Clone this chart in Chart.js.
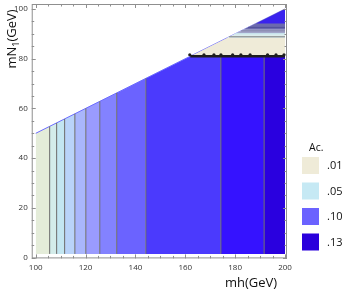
<!DOCTYPE html>
<html>
<head>
<meta charset="utf-8">
<script src="https://cdn.jsdelivr.net/npm/chart.js@4.4.1/dist/chart.umd.min.js"></script>
<style>
  html, body { margin: 0; padding: 0; background: #fff; }
  #wrap { width: 346px; height: 292px; }
</style>
</head>
<body>
<div id="wrap"><canvas id="chart"></canvas></div>
<script>
// Acceptance bands along mh (vertical contours)
const mhEdges = [100, 105.6, 108.4, 111.6, 115.7, 120.1, 125.7, 132.5, 144.2, 174.3, 191.6, 200];
// kinematic edge mN1 at each band edge
const edgeMN1 = [50, 52.8, 54.2, 55.8, 57.85, 60.05, 62.85, 66.25, 72.1, 87.15, 95.8, 100];
const bandColors = ["#e4ecd9", "#d4ecea", "#c3e6f1", "#b9d3f9", "#a9b6fc", "#9a9bfe",
                    "#8382ff", "#6b63ff", "#4b3afd", "#3512ff", "#2a00df"];
const bandFloor = 1.5;

// upper-right region (low acceptance pocket), layered from bottom to top
const capMh = [162, 176.6, 180.4, 183.6, 188.4];
const capMN1 = [81, 88.3, 90.2, 91.8, 94.2];
const capColors = ["#efebd8", "#dcecec", "#a2a4c8", "#6c6aae", "#3a22ee"];
const peakMh = 200, peakMN1 = 100;

// thin contour lines inside the pocket
const hLineMN1 = [88.8, 90.0, 91.2, 92.6];
const hLineStart = [177.6, 180.0, 182.4, 185.2];
const hLineColors = ["#7a7a7a", "#c4e6f0", "#8484aa", "#50509a"];

// thick black contour with its little bumps
const blackMN1 = 81;
const bumpMh = [161.8, 167.5, 171.5, 174.3, 179, 182.3, 186, 193, 196.4, 199.6];

const xTicks = [100, 120, 140, 160, 180, 200];
const yTicks = [0, 20, 40, 60, 80, 100];

const legendTitle = "Ac.";
const legendLabels = [".01", ".05", ".10", ".13"];
const legendColors = ["#efebd8", "#c6e9f4", "#6b62ff", "#2a00dc"];

const FONT = '"Open Sans", "DejaVu Sans", sans-serif';

let datasets = [];

// bands
for (let i = 0; i < bandColors.length; i++) {
  datasets.push({
    data: [{ x: mhEdges[i], y: edgeMN1[i] }, { x: mhEdges[i + 1], y: edgeMN1[i + 1] }],
    backgroundColor: bandColors[i],
    borderColor: "#6c6cff",
    borderWidth: 1,
    fill: { value: bandFloor },
    pointRadius: 0,
  });
}

// pocket layers
capMh.forEach((m, i) => {
  datasets.push({
    data: [{ x: m, y: capMN1[i] }, { x: peakMh, y: peakMN1 }],
    backgroundColor: capColors[i],
    borderColor: "rgba(0,0,0,0)",
    borderWidth: 0,
    fill: { value: capMN1[i] },
    pointRadius: 0,
  });
});

// thin pocket contours
hLineMN1.forEach((v, i) => {
  datasets.push({
    data: [{ x: hLineStart[i], y: v }, { x: peakMh, y: v }],
    borderColor: hLineColors[i],
    borderWidth: 1,
    fill: false,
    pointRadius: 0,
  });
});

// vertical contour lines
for (let i = 1; i < mhEdges.length - 1; i++) {
  datasets.push({
    data: [{ x: mhEdges[i], y: bandFloor }, { x: mhEdges[i], y: Math.min(edgeMN1[i], blackMN1) }],
    borderColor: "#6a6a6a",
    borderWidth: 1,
    fill: false,
    pointRadius: 0,
  });
}

// black contour
datasets.push({
  data: [{ x: capMh[0], y: blackMN1 }, { x: peakMh, y: blackMN1 }],
  borderColor: "#1e1e1e",
  borderWidth: 2.5,
  fill: false,
  pointRadius: 0,
});
datasets.push({
  data: bumpMh.map((m) => ({ x: m, y: blackMN1 + 0.6 })),
  showLine: false,
  pointRadius: 1.6,
  pointBackgroundColor: "#1e1e1e",
  pointBorderWidth: 0,
});

// first declared drawn first (at the bottom)
datasets.forEach((d, i) => (d.order = 1000 - i));

const framePlugin = {
  id: "frame",
  afterDraw(chart) {
    const { ctx, chartArea: a, scales: { x, y } } = chart;
    ctx.save();
    ctx.strokeStyle = "#8f8f8f";
    ctx.lineWidth = 1;
    ctx.strokeRect(a.left + 0.5, a.top + 0.5, a.right - a.left - 1, a.bottom - a.top - 1);

    // inward ticks on all four sides
    ctx.beginPath();
    for (let v = 100; v <= 200; v += 5) {
      const px = Math.round(x.getPixelForValue(v)) + 0.5;
      const len = v % 20 === 0 ? 4 : 2.5;
      ctx.moveTo(px, a.bottom); ctx.lineTo(px, a.bottom - len);
      ctx.moveTo(px, a.top); ctx.lineTo(px, a.top + len);
    }
    for (let v = 0; v <= 100; v += 5) {
      const py = Math.round(y.getPixelForValue(v)) + 0.5;
      const len = v % 20 === 0 ? 4 : 2.5;
      ctx.moveTo(a.left, py); ctx.lineTo(a.left + len, py);
      ctx.moveTo(a.right, py); ctx.lineTo(a.right - len, py);
    }
    ctx.stroke();

    // axis titles
    ctx.fillStyle = "#111";
    ctx.font = "13px " + FONT;
    ctx.textAlign = "center";
    ctx.textBaseline = "middle";
    ctx.fillText("mh(GeV)", 251, 283);

    ctx.save();
    ctx.translate(12, 39);
    ctx.rotate(-Math.PI / 2);
    const subFont = "9px " + FONT;
    const w1 = ctx.measureText("mN").width;
    const w3 = ctx.measureText("(GeV)").width;
    ctx.font = subFont;
    const w2 = ctx.measureText("1").width;
    const start = -(w1 + w2 + w3) / 2;
    ctx.textAlign = "left";
    ctx.font = "13px " + FONT;
    ctx.fillText("mN", start, 0);
    ctx.font = subFont;
    ctx.fillText("1", start + w1, 4);
    ctx.font = "13px " + FONT;
    ctx.fillText("(GeV)", start + w1 + w2, 0);
    ctx.restore();

    // legend
    ctx.textAlign = "left";
    ctx.font = "10.5px " + FONT;
    ctx.fillText(legendTitle, 309, 148);
    ctx.font = "11px " + FONT;
    legendLabels.forEach((lab, i) => {
      const top = 157 + i * 25.5;
      ctx.fillStyle = legendColors[i];
      ctx.fillRect(302, top, 17, 17);
      ctx.fillStyle = "#111";
      ctx.fillText(lab, 327, top + 9);
    });
    ctx.restore();
  },
};

new Chart(document.getElementById("chart"), {
  type: "line",
  data: { datasets },
  plugins: [framePlugin],
  options: {
    responsive: true,
    maintainAspectRatio: false,
    animation: false,
    layout: { padding: { left: 10, right: 59, top: 1, bottom: 14 } },
    plugins: { legend: { display: false }, tooltip: { enabled: false } },
    scales: {
      x: {
        type: "linear",
        min: 98.4,
        max: 200.8,
        grid: { display: false, drawTicks: false },
        border: { display: false },
        afterBuildTicks: (s) => { s.ticks = xTicks.map((v) => ({ value: v })); },
        ticks: { padding: 5, color: "#333", font: { size: 8, family: FONT }, maxRotation: 0 },
      },
      y: {
        min: -0.3,
        max: 102,
        grid: { display: false, drawTicks: false },
        border: { display: false },
        afterBuildTicks: (s) => { s.ticks = yTicks.map((v) => ({ value: v })); },
        afterFit: (s) => { s.paddingTop = 0; s.paddingBottom = 0; },
        ticks: { padding: 4, color: "#333", font: { size: 8, family: FONT } },
      },
    },
  },
});
</script>
</body>
</html>
